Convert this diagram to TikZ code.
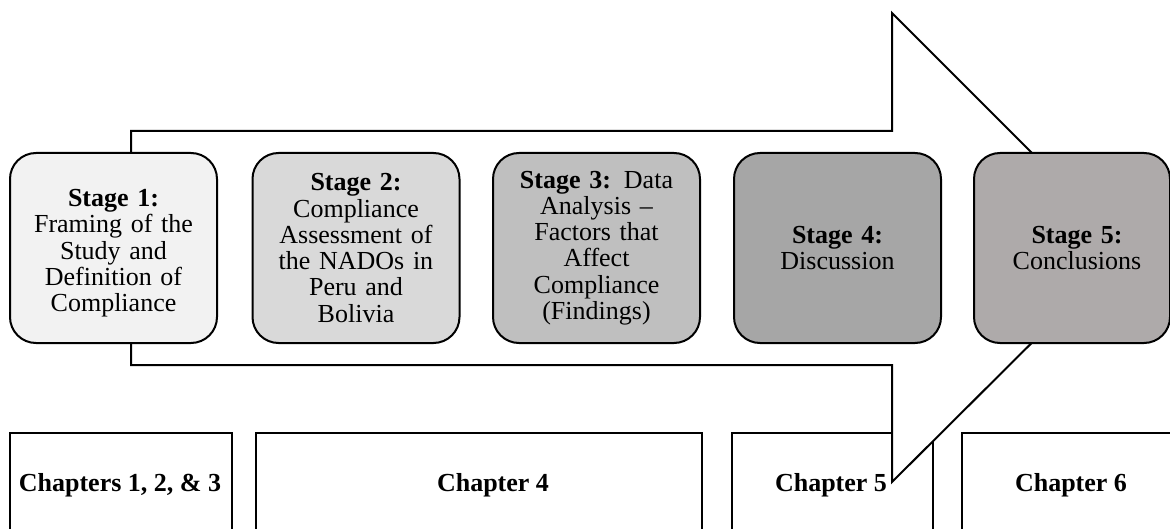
\documentclass[tikz,border=0pt]{standalone}
\usepackage{fontspec}
\setmainfont{Liberation Serif}
\begin{document}
\begin{tikzpicture}[x=1pt,y=-1pt,
  stagebox/.style={draw=black, line width=2pt, rounded corners=26pt,
    minimum height=190pt, minimum width=207pt, text width=196pt,
    align=center, inner sep=0pt, font=\fontsize{26}{26.3}\selectfont},
  chapbox/.style={draw=black, line width=2pt, minimum height=100pt, inner sep=0pt},
  chaptext/.style={anchor=base, inner sep=0pt, font=\fontsize{26}{28}\selectfont\bfseries},
  bigarrow/.style={draw=black, line width=2pt, fill=white, line join=miter}
]
\definecolor{sone}{HTML}{F2F2F2}
\definecolor{stwo}{HTML}{D9D9D9}
\definecolor{sthree}{HTML}{BFBFBF}
\definecolor{sfour}{HTML}{A6A6A6}
\definecolor{sfive}{HTML}{AEAAAA}
\useasboundingbox (0,0) rectangle (1170,529);
\clip (0,0) rectangle (1170,529);

% chapter boxes along the bottom, open towards the lower edge
\node[chapbox, minimum width=222pt] (c1) at (121,483) {};
\node[chapbox, minimum width=446pt] (c2) at (479,483) {};
\node[chapbox, minimum width=201pt] (c3) at (832.5,483) {};
\node[chapbox, minimum width=220pt] (c4) at (1072,483) {};
\node[chaptext] (t1) at (120,491) {Chapters 1, 2, \& 3};
\node[chaptext] (t2) at (493,491) {Chapter 4};
\node[chaptext] (t3) at (831,491) {Chapter 5};
\node[chaptext] (t4) at (1071,491) {Chapter 6};

% large block arrow behind the stages
\draw[bigarrow] (131,131) -- (892,131) -- (892,13) -- (1127,248)
  -- (892,482) -- (892,365) -- (131,365) -- cycle;

% stage boxes
\node[stagebox, fill=sone] (s1) at (113.5,248)
  {\rule{0pt}{28pt}\textbf{Stage 1:}\\Framing of the\\Study and\\Definition of\\Compliance};
\node[stagebox, fill=stwo] (s2) at (356,248)
  {\textbf{Stage 2:}\\Compliance\\Assessment of\\the NADOs in\\Peru and\\Bolivia};
\node[stagebox, fill=sthree] (s3) at (596.5,248)
  {\textbf{Stage 3:} Data\\Analysis --\\Factors that\\Affect\\Compliance\\(Findings)};
\node[stagebox, fill=sfour] (s4) at (837.5,248)
  {\textbf{Stage 4:}\\Discussion};
\node[stagebox, fill=sfive, minimum width=192pt] (s5) at (1072,248)
  {\hspace*{10pt}\textbf{Stage 5:}\\\hspace*{10pt}Conclusions};
\end{tikzpicture}
\end{document}
